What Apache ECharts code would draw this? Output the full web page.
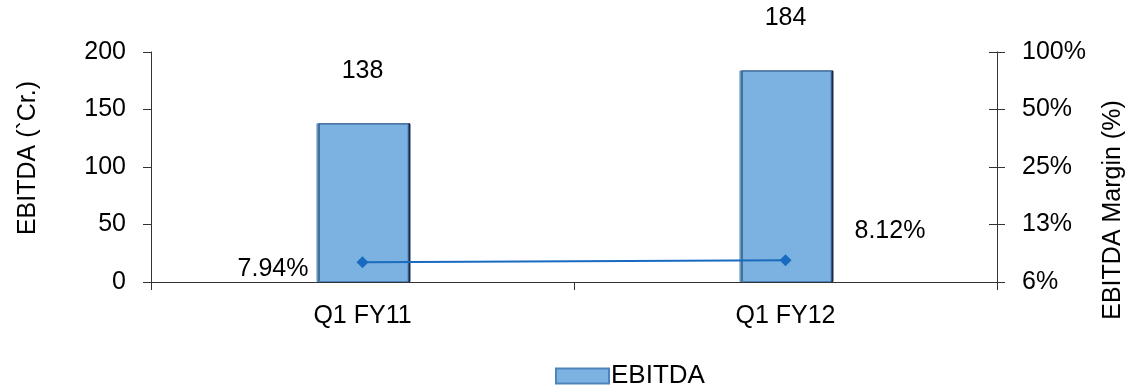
<!DOCTYPE html>
<html>
<head>
<meta charset="utf-8">
<script src="https://cdn.jsdelivr.net/npm/echarts@6/dist/echarts.min.js"></script>
<style>
html,body{margin:0;padding:0;background:#fff;}
#chart{width:1130px;height:387px;}
</style>
</head>
<body>
<div id="chart"></div>
<script>
// ---- data ----
const categories = ['Q1 FY11', 'Q1 FY12'];
const ebitda = [138, 184];            // EBITDA (` Cr.)
const marginPct = [7.94, 8.12];       // EBITDA margin (%)
const leftTicks = [0, 50, 100, 150, 200];
const marginTicks = [6.25, 12.5, 25, 50, 100]; // log2 scale tick values (%)

// ---- helpers ----
const FONT = 'Liberation Sans, Arial, sans-serif';
const FS = 25;
const mBase = marginTicks[0];
const toLog = v => Math.log2(v / mBase);
const logMax = toLog(marginTicks[marginTicks.length - 1]);

const chart = echarts.init(document.getElementById('chart'), null, {renderer: 'canvas'});

const option = {
  animation: false,
  backgroundColor: '#ffffff',
  textStyle: {fontFamily: FONT, color: '#000'},
  grid: {left: 151, right: 133, top: 52, bottom: 105, containLabel: false},
  legend: {
    data: [{name: 'EBITDA', icon: 'rect'}],
    left: 550, top: 358,
    itemWidth: 53, itemHeight: 15, itemGap: 10,
    textStyle: {fontFamily: FONT, fontSize: 26, color: '#000', padding: [0, 0, 0, -3]}
  },
  xAxis: {
    type: 'category',
    data: categories,
    axisLine: {lineStyle: {color: '#333', width: 1}},
    axisTick: {show: true, length: 8, lineStyle: {color: '#333'}},
    axisLabel: {fontFamily: FONT, fontSize: FS, color: '#000', margin: 22}
  },
  yAxis: [
    {
      type: 'value', min: leftTicks[0], max: leftTicks[leftTicks.length - 1], interval: 50,
      position: 'left',
      axisLine: {show: true, lineStyle: {color: '#333'}},
      axisTick: {show: true, length: 8, lineStyle: {color: '#333'}},
      axisLabel: {fontFamily: FONT, fontSize: FS, color: '#000', margin: 25},
      splitLine: {show: false}
    },
    {
      type: 'value', min: 0, max: logMax, interval: 1,
      position: 'right',
      axisLine: {show: true, lineStyle: {color: '#333'}},
      axisTick: {show: true, length: 8, lineStyle: {color: '#333'}},
      axisLabel: {
        fontFamily: FONT, fontSize: FS, color: '#000', margin: 25,
        formatter: v => Math.round(mBase * Math.pow(2, v)) + '%'
      },
      splitLine: {show: false}
    },
    {
      type: 'value', min: 0, max: logMax, interval: 1,
      position: 'right',
      axisLine: {show: false},
      axisTick: {show: true, inside: true, length: 8, lineStyle: {color: '#333'}},
      axisLabel: {show: false},
      splitLine: {show: false}
    }
  ],
  series: [
    {
      name: 'EBITDA',
      type: 'bar',
      yAxisIndex: 0,
      data: ebitda,
      barWidth: 92,
      itemStyle: {
        color: '#7cb2e1',
        borderColor: '#4f84bb',
        borderWidth: 1,
        shadowColor: 'rgba(10,30,60,0.9)',
        shadowOffsetX: 2,
        shadowOffsetY: 0,
        shadowBlur: 0
      },
      label: {
        show: true, position: 'top', distance: 40,
        fontFamily: FONT, fontSize: FS, color: '#000'
      }
    },
    {
      name: 'EBITDA Margin',
      type: 'line',
      yAxisIndex: 1,
      data: marginPct.map((v, i) => ({
        value: toLog(v),
        label: i === 0
          ? {position: 'left', distance: 48, offset: [0, 7]}
          : {position: 'right', distance: 63, offset: [0, -29]}
      })),
      symbol: 'diamond',
      symbolSize: 12,
      lineStyle: {color: '#1a6bc0', width: 2},
      itemStyle: {color: '#1a6bc0'},
      label: {
        show: true,
        fontFamily: FONT, fontSize: FS, color: '#000',
        formatter: p => marginPct[p.dataIndex].toFixed(2) + '%'
      },
      z: 5
    }
  ],
  graphic: [
    {
      type: 'text', x: 28, y: 158, rotation: Math.PI / 2,
      style: {
        text: 'EBITDA (`Cr.)', fill: '#000',
        font: FS + 'px ' + FONT,
        align: 'center', verticalAlign: 'middle',
        textAlign: 'center', textVerticalAlign: 'middle'
      }
    },
    {
      type: 'text', x: 1113, y: 210, rotation: Math.PI / 2,
      style: {
        text: 'EBITDA Margin (%)', fill: '#000',
        font: FS + 'px ' + FONT,
        align: 'center', verticalAlign: 'middle',
        textAlign: 'center', textVerticalAlign: 'middle'
      }
    }
  ]
};
chart.setOption(option);
</script>
</body>
</html>
